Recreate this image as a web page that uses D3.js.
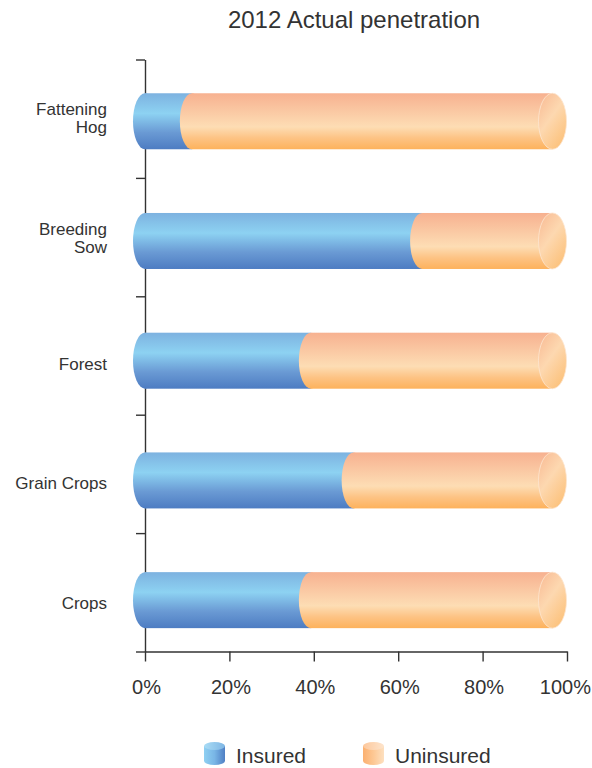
<!DOCTYPE html>
<html>
<head>
<meta charset="utf-8">
<script src="https://cdn.jsdelivr.net/npm/d3@7"></script>
<style>
  html, body { margin: 0; padding: 0; background: #ffffff; }
  svg { display: block; }
  text { font-family: "Liberation Sans", Arial, sans-serif; fill: #333333; }
</style>
</head>
<body>
<svg id="chart" width="592" height="768"></svg>
<script>
// ---- data ----
const title = "2012 Actual penetration";
const categories = ["Fattening\nHog", "Breeding\nSow", "Forest", "Grain Crops", "Crops"];
const insured = [11.5, 68, 40.7, 51.2, 40.7];
const uninsured = [88.5, 32, 59.3, 48.8, 59.3];
const seriesNames = ["Insured", "Uninsured"];
const xTicks = [0, 20, 40, 60, 80, 100];

// ---- setup ----
const svg = d3.select("#chart");

const x = d3.scaleLinear().domain([0, 100]).range([145, 567]);      // axis (back wall)
const xb = d3.scaleLinear().domain([0, 100]).range([145, 552.5]);   // cylinders (front, depth offset)
const yAxisScale = d3.scaleLinear().domain([0, categories.length]).range([59.5, 651.5]);
const yb = d3.scaleBand().domain(categories).range([61.4, 660]).paddingInner(0).paddingOuter(0);
const barH = 56;

// ---- gradients ----
const defs = svg.append("defs");
function grad(id, stops, x1, y1, x2, y2) {
  const g = defs.append("linearGradient").attr("id", id)
    .attr("x1", x1).attr("y1", y1).attr("x2", x2).attr("y2", y2);
  stops.forEach(s => g.append("stop").attr("offset", s[0]).attr("stop-color", s[1]));
}
grad("gBlue", [[0, "#7db2e0"], [0.36, "#8dd2f2"], [0.7, "#6a9ad4"], [1, "#4d7cc2"]], 0, 0, 0, 1);
grad("gOrange", [[0, "#f7b190"], [0.6, "#fdddb4"], [0.8, "#fdc384"], [1, "#fdb25c"]], 0, 0, 0, 1);
grad("gEnd", [[0, "#f8b892"], [0.5, "#fdd8b0"], [1, "#fcc27c"]], 0, 0, 0.7, 1);
grad("gLegBlue", [[0, "#8fd0f2"], [0.5, "#79b6e6"], [1, "#4f7fc4"]], 0, 0, 1, 0);
grad("gLegBlueTop", [[0, "#a9dcf5"], [1, "#7fb6e4"]], 0, 0, 1, 0);
grad("gLegOrange", [[0, "#fbb070"], [0.5, "#fdc894"], [1, "#fde0c0"]], 0, 0, 1, 0);
grad("gLegOrangeTop", [[0, "#fdc89c"], [1, "#fde4cc"]], 0, 0, 1, 0);

// ---- title ----
svg.append("text")
  .attr("x", 354).attr("y", 28)
  .attr("text-anchor", "middle")
  .style("font-size", "24px")
  .text(title);

// ---- axes ----
const axisColor = "#333333";
const gx = svg.append("g")
  .attr("transform", "translate(0,651.5)")
  .call(d3.axisBottom(x).tickValues(xTicks).tickFormat(d => d + "%").tickSize(10).tickSizeOuter(0));
gx.select(".domain").attr("stroke", axisColor).attr("stroke-width", 1.4);
gx.selectAll(".tick line").attr("stroke", axisColor).attr("stroke-width", 1.4);
gx.selectAll(".tick text")
  .attr("y", 42.5).attr("dy", 0).attr("dx", 1)
  .style("font-size", "20px")
  .style("font-family", "\"Liberation Sans\", Arial, sans-serif")
  .attr("fill", "#333333");
gx.selectAll(".tick text").filter(d => d === xTicks[xTicks.length - 1])
  .attr("text-anchor", "end").attr("dx", 0).attr("x", 23.5);

const gy = svg.append("g")
  .attr("transform", "translate(145,0)")
  .call(d3.axisLeft(yAxisScale).tickValues(d3.range(categories.length + 1)).tickFormat("").tickSize(9).tickSizeOuter(0));
gy.select(".domain").attr("stroke", axisColor).attr("stroke-width", 1.4);
gy.selectAll(".tick line").attr("stroke", axisColor).attr("stroke-width", 1.4);

// ---- category labels ----
categories.forEach(cat => {
  const lines = cat.split("\n");
  const c = yb(cat) + yb.bandwidth() / 2;
  const t = svg.append("text")
    .attr("text-anchor", "end")
    .style("font-size", "17px");
  lines.forEach((ln, i) => {
    t.append("tspan")
      .attr("x", 107)
      .attr("y", c + 9 - (lines.length - 1) * 15.3 + i * 18)
      .text(ln);
  });
});

// ---- cylinders ----
const capRx = 12, endRx = 14;
const rows = categories.map((cat, i) => ({ cat, ins: insured[i], unins: uninsured[i] }));
const gBars = svg.append("g");
rows.forEach(r => {
  const cy = yb(r.cat) + yb.bandwidth() / 2;
  const top = cy - barH / 2;
  const segs = [
    { x0: 0, x1: r.ins, fill: "url(#gBlue)" },
    { x0: r.ins, x1: r.ins + r.unins, fill: "url(#gOrange)" }
  ];
  const g = gBars.append("g");
  segs.forEach(s => {
    g.append("rect")
      .attr("x", xb(s.x0)).attr("y", top)
      .attr("width", xb(s.x1) - xb(s.x0)).attr("height", barH)
      .attr("fill", s.fill);
    g.append("ellipse")
      .attr("cx", xb(s.x0)).attr("cy", cy)
      .attr("rx", capRx).attr("ry", barH / 2)
      .attr("fill", s.fill);
  });
  g.append("ellipse")
    .attr("cx", xb(r.ins + r.unins)).attr("cy", cy)
    .attr("rx", endRx).attr("ry", barH / 2)
    .attr("fill", "url(#gEnd)")
    .attr("stroke", "#fde6d0").attr("stroke-width", 0.8);
});

// ---- legend ----
const legendItems = [
  { name: seriesNames[0], x: 204, body: "url(#gLegBlue)", top: "url(#gLegBlueTop)" },
  { name: seriesNames[1], x: 363, body: "url(#gLegOrange)", top: "url(#gLegOrangeTop)" }
];
legendItems.forEach(it => {
  const w = 21, y0 = 742, y1 = 765, ry = 4;
  const g = svg.append("g");
  g.append("rect").attr("x", it.x).attr("y", y0 + ry).attr("width", w).attr("height", y1 - y0 - 2 * ry).attr("fill", it.body);
  g.append("ellipse").attr("cx", it.x + w / 2).attr("cy", y1 - ry).attr("rx", w / 2).attr("ry", ry).attr("fill", it.body);
  g.append("ellipse").attr("cx", it.x + w / 2).attr("cy", y0 + ry).attr("rx", w / 2).attr("ry", ry).attr("fill", it.top);
  svg.append("text")
    .attr("x", it.x + 32).attr("y", 763)
    .style("font-size", "21px")
    .text(it.name);
});
</script>
</body>
</html>
